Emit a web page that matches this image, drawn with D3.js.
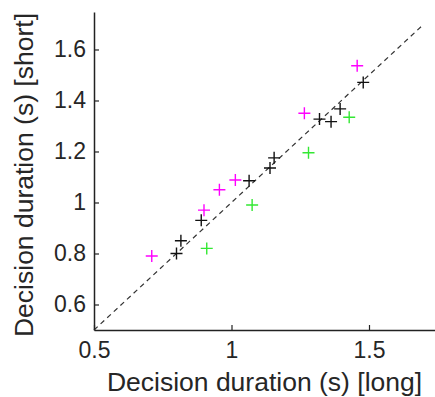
<!DOCTYPE html>
<html>
<head>
<meta charset="utf-8"/>
<script src="https://cdn.jsdelivr.net/npm/d3@7"></script>
<style>
  body { margin: 0; background: #fff; }
  text { font-family: "Liberation Sans", Arial, sans-serif; fill: #262626; }
</style>
</head>
<body>
<script>
// decision durations (s): [long, short]
var blackPts = [[0.80, 0.80], [0.816, 0.85], [0.89, 0.93], [1.064, 1.085], [1.14, 1.135],
                [1.155, 1.175], [1.32, 1.327], [1.362, 1.317], [1.395, 1.367], [1.479, 1.471]];
var magentaPts = [[0.71, 0.79], [0.90, 0.97], [0.956, 1.05], [1.014, 1.088], [1.265, 1.35], [1.457, 1.536]];
var greenPts = [[0.91, 0.82], [1.075, 0.99], [1.28, 1.195], [1.428, 1.334]];
var xTicks = [0.5, 1, 1.5];
var yTicks = [0.6, 0.8, 1, 1.2, 1.4, 1.6];
var diag = [0.5, 1.69];

var W = 435, H = 397;
var x0 = 94, x1 = 435, y0 = 330, y1 = 12;

var svg = d3.select("body").append("svg")
  .attr("width", W)
  .attr("height", H);

var x = d3.scaleLinear().domain([0.5, 1.74]).range([x0, x1]);
var y = d3.scaleLinear().domain([0.5, 1.747]).range([y0, y1]);

// identity line
svg.append("line")
  .attr("x1", x(diag[0])).attr("y1", y(diag[0]))
  .attr("x2", x(diag[1])).attr("y2", y(diag[1]))
  .attr("stroke", "#333")
  .attr("stroke-width", 1.2)
  .attr("stroke-dasharray", "5,4");

// axes, matlab style: ticks inward, no box
var xAxis = svg.append("g")
  .attr("transform", "translate(0," + y0 + ")")
  .call(d3.axisBottom(x).tickValues(xTicks).tickSizeInner(-5).tickSizeOuter(0)
    .tickFormat(d3.format("")).tickPadding(12));
var yAxis = svg.append("g")
  .attr("transform", "translate(" + x0 + ",0)")
  .call(d3.axisLeft(y).tickValues(yTicks).tickSizeInner(-5).tickSizeOuter(0)
    .tickFormat(d3.format("")).tickPadding(8));

[xAxis, yAxis].forEach(function(g) {
  g.select(".domain").attr("stroke", "#222").attr("stroke-width", 1.5);
  g.selectAll(".tick line").attr("stroke", "#222").attr("stroke-width", 1.2);
  g.selectAll(".tick text").style("font-size", "23px").attr("fill", "#262626");
});

function plus(data, color) {
  var g = svg.append("g").attr("stroke", color).attr("stroke-width", 1.4).attr("fill", "none");
  g.selectAll("path").data(data).enter().append("path")
    .attr("d", function(d) {
      var px = x(d[0]), py = y(d[1]), r = 6;
      return "M" + (px - r) + "," + py + "H" + (px + r) + "M" + px + "," + (py - r) + "V" + (py + r);
    });
}
plus(magentaPts, "#ff00ff");
plus(greenPts, "#33e833");
plus(blackPts, "#111");

svg.append("text")
  .attr("x", (x0 + x1) / 2)
  .attr("y", 391)
  .attr("text-anchor", "middle")
  .style("font-size", "26.5px")
  .text("Decision duration (s) [long]");

svg.append("text")
  .attr("transform", "translate(33," + ((y0 + y1) / 2 + 4) + ") rotate(-90)")
  .attr("text-anchor", "middle")
  .style("font-size", "26.5px")
  .text("Decision duration (s) [short]");
</script>
</body>
</html>
